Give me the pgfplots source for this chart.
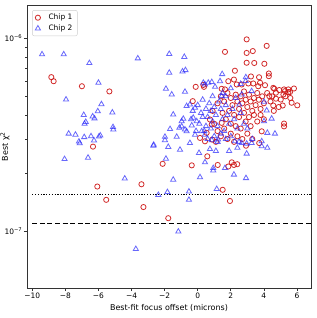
\documentclass[border=0pt]{standalone}
\usepackage{pgfplots}
\pgfplotsset{compat=1.18}
\usepackage{pgfplotstable}
\usepackage{fontspec}
\setmainfont{DejaVu Sans}
\definecolor{cred}{RGB}{205,20,20}
\definecolor{cblue}{RGB}{40,40,250}

\pgfplotstableread{
x y
-8.85 0.629e-6
-8.71 0.599e-6
-7.00 0.564e-6
-5.34 0.530e-6
-6.33 0.274e-6
-6.07 0.170e-6
-3.40 0.1747e-6
-5.53 0.145e-6
-3.28 0.133e-6
-1.78 0.1164e-6
-0.36 0.219e-6
-2.12 0.223e-6
0.58 0.244e-6
1.21 0.220e-6
1.51 0.1635e-6
1.95 0.143e-6
1.85 0.216e-6
2.06 0.227e-6
2.19 0.220e-6
2.39 0.222e-6
2.92 0.277e-6
3.72 0.286e-6
0.44 0.292e-6
0.88 0.298e-6
2.96 0.988e-6
4.17 0.914e-6
1.65 0.851e-6
2.96 0.840e-6
3.33 0.859e-6
2.96 0.747e-6
3.42 0.745e-6
4.03 0.738e-6
2.25 0.679e-6
4.30 0.657e-6
4.30 0.636e-6
3.22 0.634e-6
3.71 0.628e-6
-0.12 0.560e-6
0.34 0.573e-6
0.38 0.560e-6
1.45 0.547e-6
1.65 0.543e-6
1.85 0.599e-6
2.19 0.611e-6
2.36 0.576e-6
2.66 0.576e-6
3.06 0.583e-6
3.36 0.583e-6
3.66 0.564e-6
4.07 0.571e-6
3.77 0.588e-6
4.57 0.553e-6
4.63 0.547e-6
4.93 0.539e-6
5.22 0.543e-6
5.48 0.543e-6
5.82 0.549e-6
5.28 0.532e-6
5.58 0.526e-6
4.73 0.522e-6
5.18 0.511e-6
5.48 0.526e-6
4.33 0.501e-6
4.73 0.486e-6
5.02 0.481e-6
5.68 0.463e-6
6.02 0.449e-6
5.14 0.448e-6
4.57 0.448e-6
-0.30 0.472e-6
0.74 0.379e-6
5.22 0.361e-6
5.22 0.349e-6
0.85 0.357e-6
1.45 0.364e-6
0.54 0.323e-6
0.14 0.304e-6
3.87 0.329e-6
1.4 0.50e-6
1.6 0.47e-6
1.8 0.52e-6
2.0 0.49e-6
2.1 0.45e-6
2.3 0.51e-6
2.4 0.47e-6
2.5 0.43e-6
2.6 0.50e-6
2.7 0.46e-6
2.8 0.53e-6
2.9 0.48e-6
3.0 0.44e-6
3.1 0.51e-6
3.2 0.47e-6
3.3 0.42e-6
3.4 0.49e-6
3.5 0.45e-6
3.6 0.52e-6
3.7 0.48e-6
3.8 0.43e-6
3.9 0.50e-6
4.0 0.46e-6
4.2 0.52e-6
4.4 0.47e-6
1.5 0.41e-6
1.7 0.38e-6
1.9 0.42e-6
2.0 0.36e-6
2.2 0.40e-6
2.3 0.35e-6
2.5 0.39e-6
2.6 0.34e-6
2.8 0.41e-6
2.9 0.37e-6
3.1 0.39e-6
3.2 0.35e-6
3.4 0.40e-6
3.6 0.37e-6
3.8 0.40e-6
4.0 0.38e-6
1.2 0.33e-6
1.4 0.31e-6
1.6 0.34e-6
1.8 0.30e-6
2.0 0.32e-6
2.2 0.29e-6
2.4 0.31e-6
2.7 0.30e-6
3.0 0.32e-6
3.3 0.30e-6
1.0 0.36e-6
1.1 0.29e-6
0.9 0.42e-6
1.2 0.46e-6
4.6 0.42e-6
4.9 0.44e-6
5.3 0.50e-6
4.5 0.50e-6
5.6 0.49e-6
}\chipone

\pgfplotstableread{
x y
-9.41 0.826e-6
-8.10 0.826e-6
-6.55 0.744e-6
-3.62 0.787e-6
-6.00 0.588e-6
-7.96 0.481e-6
-5.82 0.455e-6
-6.04 0.418e-6
-5.16 0.412e-6
-6.89 0.400e-6
-6.35 0.393e-6
-6.24 0.384e-6
-6.77 0.368e-6
-6.84 0.360e-6
-5.12 0.346e-6
-5.10 0.336e-6
-7.80 0.320e-6
-7.39 0.316e-6
-6.86 0.307e-6
-6.45 0.310e-6
-5.89 0.313e-6
-5.97 0.309e-6
-7.18 0.291e-6
-7.13 0.285e-6
-6.27 0.295e-6
-2.66 0.280e-6
-8.05 0.236e-6
-6.63 0.240e-6
-4.41 0.187e-6
-2.38 0.1537e-6
-3.74 0.0805e-6
-1.17 0.0992e-6
-0.53 0.160e-6
-0.53 0.145e-6
-1.83 0.159e-6
-1.48 0.1845e-6
0.14 0.190e-6
1.15 0.165e-6
0.44 0.227e-6
0.94 0.212e-6
0.94 0.206e-6
1.65 0.212e-6
2.19 0.196e-6
2.92 0.188e-6
0.08 0.254e-6
-1.92 0.237e-6
-2.68 0.277e-6
-1.78 0.273e-6
-1.07 0.264e-6
-0.47 0.286e-6
0.74 0.266e-6
-1.98 0.296e-6
0.85 0.296e-6
1.23 0.298e-6
2.25 0.292e-6
2.66 0.286e-6
2.96 0.284e-6
3.26 0.286e-6
3.87 0.292e-6
3.87 0.275e-6
4.21 0.270e-6
2.96 0.252e-6
-1.72 0.830e-6
-0.81 0.801e-6
-1.72 0.663e-6
-0.92 0.673e-6
-0.74 0.684e-6
1.48 0.652e-6
-1.92 0.547e-6
-0.77 0.528e-6
-1.57 0.511e-6
0.34 0.588e-6
0.64 0.588e-6
0.85 0.593e-6
1.35 0.599e-6
0.44 0.576e-6
1.05 0.560e-6
2.91 0.628e-6
3.26 0.532e-6
1.45 0.501e-6
-0.67 0.445e-6
-0.47 0.453e-6
-0.16 0.436e-6
-1.48 0.402e-6
-0.87 0.382e-6
-0.97 0.371e-6
-0.27 0.387e-6
-0.06 0.371e-6
-1.67 0.338e-6
-1.11 0.343e-6
-0.97 0.349e-6
-0.77 0.336e-6
-0.67 0.329e-6
-0.36 0.353e-6
0.24 0.329e-6
0.44 0.316e-6
-1.98 0.308e-6
-1.27 0.308e-6
-0.16 0.316e-6
4.01 0.468e-6
4.17 0.422e-6
4.01 0.371e-6
4.47 0.383e-6
4.21 0.323e-6
4.67 0.320e-6
2.52 0.453e-6
2.66 0.511e-6
0.0 0.45e-6
0.2 0.41e-6
0.3 0.48e-6
0.5 0.43e-6
0.6 0.39e-6
0.7 0.46e-6
0.8 0.42e-6
0.9 0.37e-6
1.0 0.44e-6
1.1 0.40e-6
1.2 0.35e-6
1.3 0.47e-6
1.4 0.43e-6
1.5 0.38e-6
1.6 0.33e-6
1.7 0.45e-6
1.8 0.40e-6
1.9 0.36e-6
2.0 0.31e-6
2.1 0.43e-6
2.2 0.38e-6
2.4 0.34e-6
2.5 0.29e-6
2.6 0.41e-6
2.8 0.36e-6
0.1 0.36e-6
0.4 0.33e-6
0.6 0.30e-6
0.8 0.34e-6
1.0 0.31e-6
1.2 0.29e-6
1.4 0.32e-6
1.7 0.30e-6
0.3 0.39e-6
0.5 0.35e-6
-0.3 0.42e-6
-0.4 0.38e-6
-0.1 0.33e-6
0.9 0.50e-6
1.5 0.52e-6
2.3 0.49e-6
2.0 0.55e-6
1.7 0.50e-6
2.6 0.58e-6
2.9 0.60e-6
3.0 0.34e-6
3.3 0.30e-6
2.4 0.27e-6
1.9 0.26e-6
1.1 0.26e-6
}\chiptwo

\begin{document}
\fontsize{7.5}{9}\selectfont
\begin{tikzpicture}
\useasboundingbox (-27bp,-30bp) rectangle (290bp,288bp);
\begin{axis}[
  at={(0,0)}, anchor=south west,
  scale only axis, width=284bp, height=283bp,
  ymode=log,
  xmin=-10.32, xmax=6.85,
  ymin=5.05e-8, ymax=1.49e-6,
  xtick={-10,-8,-6,-4,-2,0,2,4,6},
  xticklabels={−10,−8,−6,−4,−2,0,2,4,6},
  ytick={1e-7,1e-6},
  yticklabels={10\textsuperscript{−7},10\textsuperscript{−6}},
  tick align=outside,
  xtick pos=bottom, ytick pos=left,
  major tick length=3bp, minor tick length=1.8bp,
  tick style={black!80, line width=0.6bp},
  axis line style={black!80, line width=0.8bp},
  tick label style={font=\fontsize{7.5}{9}\selectfont},
  xticklabel style={yshift=1bp},
  yticklabel style={xshift=1bp},
  xlabel={Best-fit focus offset (microns)},
  ylabel={Best χ\textsuperscript{2}},
  label style={font=\fontsize{8}{9.5}\selectfont},
  xlabel style={at={(axis description cs:0.5,0)}, anchor=center, yshift=-20bp},
  ylabel style={at={(axis description cs:0,0.5)}, anchor=center, yshift=22bp},
  legend style={at={(axis description cs:0.018,0.982)}, anchor=north west,
    draw=black!20, rounded corners=2bp, font=\fontsize{7.5}{9}\selectfont,
    row sep=0bp, inner xsep=3bp, inner ysep=2bp},
  legend cell align=left,
]
\addplot[only marks, mark=o, mark size=2.6bp, draw=cred, line width=0.8bp, draw opacity=0.9] table[x=x,y=y] {\chipone};
\addlegendentry{\hspace{6bp}Chip 1}
\addplot[only marks, mark=triangle, mark size=3bp, draw=cblue, line width=0.8bp, draw opacity=0.7] table[x=x,y=y] {\chiptwo};
\addlegendentry{\hspace{6bp}Chip 2}
\addplot[black, line width=1.2bp, dash pattern=on 1.2bp off 1.6bp, forget plot] coordinates {(-10,1.545e-7) (7,1.545e-7)};
\addplot[black, line width=1.2bp, dash pattern=on 5bp off 2.6bp, forget plot] coordinates {(-10,1.088e-7) (7,1.088e-7)};
\end{axis}
\end{tikzpicture}
\end{document}
